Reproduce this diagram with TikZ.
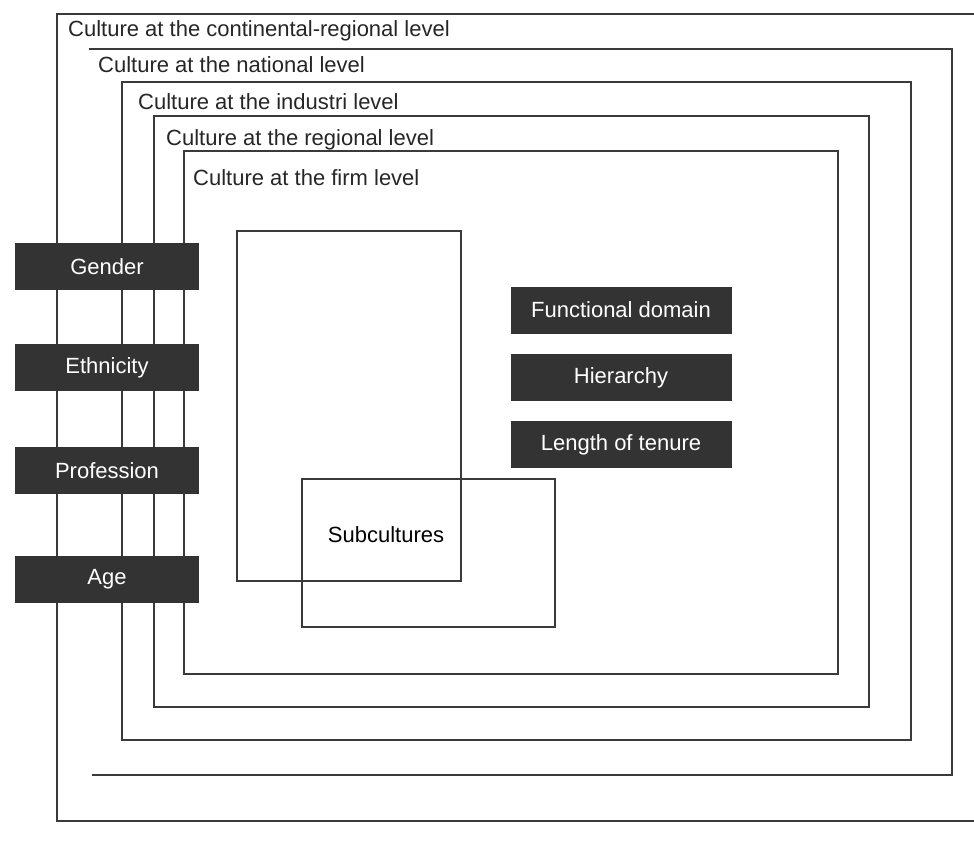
\documentclass[tikz,border=0pt]{standalone}
\usepackage{fontspec}
\setmainfont{Liberation Sans}
\usepackage{tikz}
\usetikzlibrary{positioning}
\definecolor{boxgrey}{HTML}{333333}
\definecolor{linegrey}{HTML}{3a3a3a}

\begin{document}
\begin{tikzpicture}[
    x=1pt, y=-1pt,
    font=\fontsize{22}{26}\selectfont,
    frame/.style={draw=linegrey, line width=1.4pt},
    level/.style={anchor=base west, inner sep=0pt, text=black!85},
    factor/.style={rectangle, fill=boxgrey, text=white, minimum width=184pt, minimum height=47pt, inner sep=0pt},
    firmfactor/.style={factor, minimum width=221pt}
]
\useasboundingbox (0,0) rectangle (974,848);

% nested levels (national has no left side)
\draw[frame] (974,14) -- (57,14) -- (57,821) -- (974,821);
\draw[frame] (89,49) -- (952,49) -- (952,775) -- (92,775);
\draw[frame] (122,82) rectangle (911,740);
\draw[frame] (154,116) rectangle (869,707);
\draw[frame] (184,151) rectangle (838,674);

\node[level] (continental) at (68,37) {Culture at the continental-regional level};
\node[level] (national) at (98,73) {Culture at the national level};
\node[level] (industri) at (138,110) {Culture at the industri level};
\node[level] (regional) at (166,146) {Culture at the regional level};
\node[level] (firm) at (193,185) {Culture at the firm level};

% subcultures
\draw[frame] (237,231) rectangle (461,581);
\draw[frame] (302,479) rectangle (555,627);
\node (subcultures) at (386,535) {Subcultures};

% left factors
\node[factor] (gender) at (107,266.5) {Gender};
\node[factor, below=54pt of gender] (ethnicity) {Ethnicity};
\node[factor, below=55pt of ethnicity] (profession) {Profession};
\node[factor, below=62pt of profession] (age) {Age};

% firm factors
\node[firmfactor] (functional) at (621,310) {Functional domain};
\node[firmfactor, below=20pt of functional] (hierarchy) {Hierarchy};
\node[firmfactor, below=20pt of hierarchy] (tenure) {Length of tenure};

\end{tikzpicture}
\end{document}
